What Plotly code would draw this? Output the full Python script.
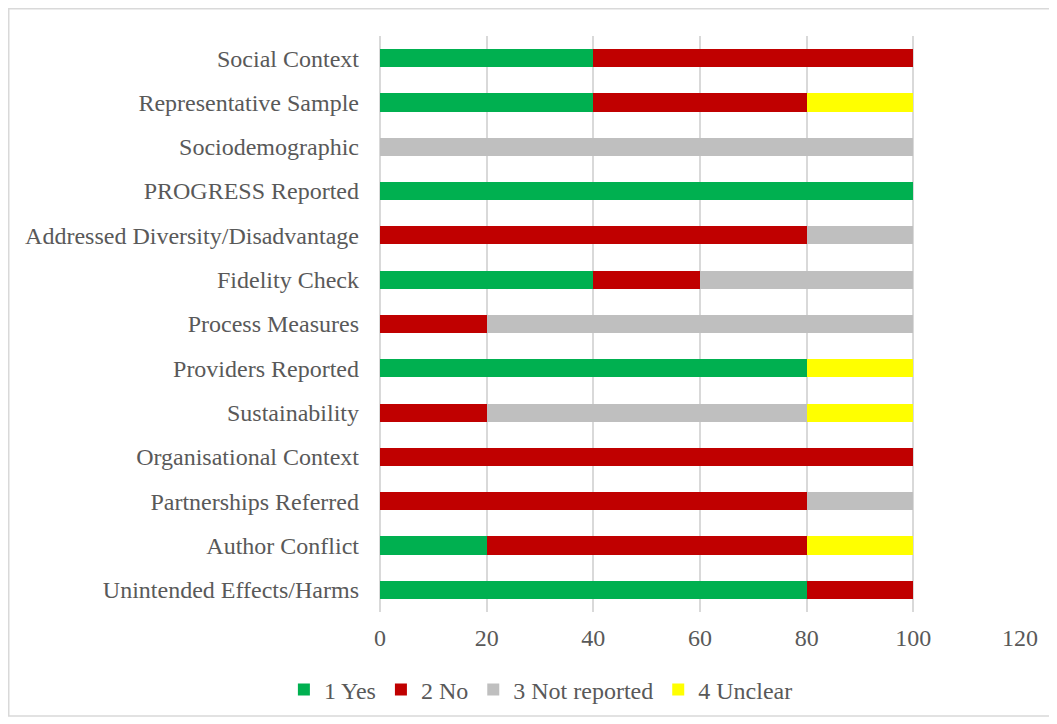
import plotly.graph_objects as go

# categories, top to bottom as shown
categories = [
    'Social Context',
    'Representative Sample',
    'Sociodemographic',
    'PROGRESS Reported',
    'Addressed Diversity/Disadvantage',
    'Fidelity Check',
    'Process Measures',
    'Providers Reported',
    'Sustainability',
    'Organisational Context',
    'Partnerships Referred',
    'Author Conflict',
    'Unintended Effects/Harms',
]

yes = [40, 40, 0, 100, 0, 40, 0, 80, 0, 0, 0, 20, 80]
no = [60, 40, 0, 0, 80, 20, 20, 0, 20, 100, 80, 60, 20]
not_reported = [0, 0, 100, 0, 20, 40, 80, 0, 60, 0, 20, 0, 0]
unclear = [0, 20, 0, 0, 0, 0, 0, 20, 20, 0, 0, 20, 0]

x_ticks = [0, 20, 40, 60, 80, 100, 120]

series = [
    ('1 Yes', yes, '#00B050'),
    ('2 No', no, '#C00000'),
    ('3 Not reported', not_reported, '#BFBFBF'),
    ('4 Unclear', unclear, '#FFFF00'),
]

# page body has an 8px margin, so the figure is a bit smaller than the window
W, H = 1049, 716
L, R, T, B = 372, 37, 28, 112
FONT = 'Liberation Serif, Times New Roman, serif'
TEXT = '#595959'
GRID = '#D9D9D9'

fig = go.Figure()
for name, vals, color in series:
    fig.add_trace(go.Bar(
        name=name,
        y=categories,
        x=vals,
        orientation='h',
        marker=dict(color=color, line=dict(width=0)),
        width=0.41,
    ))


def px_to_paper_x(px):
    return (px - L) / (W - L - R)


def px_to_paper_y(px):
    # px measured from the top of the figure
    return (H - B - px) / (H - T - B)


# chart-area border, drawn around the whole figure
fig.add_shape(
    type='rect', xref='paper', yref='paper',
    x0=px_to_paper_x(0.75), x1=px_to_paper_x(1042),
    y0=px_to_paper_y(708), y1=px_to_paper_y(0.75),
    line=dict(color=GRID, width=1.5),
    fillcolor='rgba(0,0,0,0)', layer='below',
)

fig.update_layout(
    width=W, height=H,
    margin=dict(l=L, r=R, t=T, b=B),
    barmode='stack',
    plot_bgcolor='white',
    paper_bgcolor='white',
    font=dict(family=FONT, size=24, color=TEXT),
    xaxis=dict(
        range=[0, 120],
        tickvals=x_ticks,
        showgrid=True,
        gridcolor=GRID,
        gridwidth=1.5,
        zeroline=True,
        zerolinecolor=GRID,
        zerolinewidth=1.5,
        showline=False,
        ticks='',
        ticklabelstandoff=9,
        tickfont=dict(size=24, color=TEXT),
    ),
    yaxis=dict(
        autorange='reversed',
        showgrid=False,
        showline=False,
        ticks='',
        ticklabelstandoff=20,
        tickfont=dict(size=24, color=TEXT),
    ),
    legend=dict(
        orientation='h',
        xref='container', yref='container',
        x=0.508, y=0.0475,
        xanchor='center', yanchor='middle',
        font=dict(size=24, color=TEXT),
        traceorder='normal',
        itemwidth=30,
    ),
)

fig.write_html('out.html')
